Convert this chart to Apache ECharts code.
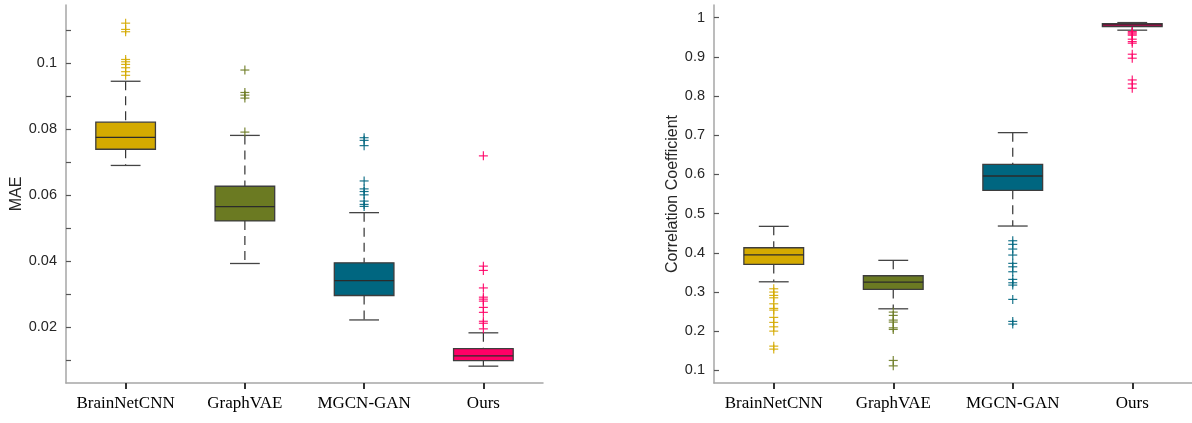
<!DOCTYPE html>
<html>
<head>
<meta charset="utf-8">
<script src="https://cdn.jsdelivr.net/npm/echarts@6/dist/echarts.min.js"></script>
<style>
html,body{margin:0;padding:0;background:#fff}
#main{width:1192px;height:423px}
</style>
</head>
<body>
<div id="main"></div>
<script>
var categories = ['BrainNetCNN', 'GraphVAE', 'MGCN-GAN', 'Ours'];

// [lower whisker, Q1, median, Q3, upper whisker]
var maeStats = [
	[0.0689, 0.0738, 0.0774, 0.0820, 0.0944],
	[0.0392, 0.0521, 0.0564, 0.0626, 0.0780],
	[0.0221, 0.0295, 0.0340, 0.0394, 0.0546],
	[0.0081, 0.0098, 0.0112, 0.0134, 0.0182]
];
var maeOutliers = [
	[0.1120, 0.1101, 0.1094, 0.1010, 0.1003, 0.0995, 0.0985, 0.0973, 0.0962],
	[0.0978, 0.0910, 0.0902, 0.0893, 0.0790],
	[0.0773, 0.0765, 0.0749, 0.0642, 0.0618, 0.0610, 0.0600, 0.0581, 0.0571, 0.0565],
	[0.0718, 0.0384, 0.0371, 0.0318, 0.0290, 0.0284, 0.0278, 0.0259, 0.0244, 0.0217, 0.0211, 0.0194]
];
var corrStats = [
	[0.3261, 0.3705, 0.3950, 0.4129, 0.4675],
	[0.2572, 0.3067, 0.3254, 0.3415, 0.3808],
	[0.4683, 0.5594, 0.5959, 0.6258, 0.7065],
	[0.9678, 0.9770, 0.9813, 0.9847, 0.9872]
];
var corrOutliers = [
	[0.3083, 0.2999, 0.2914, 0.2853, 0.2700, 0.2582, 0.2539, 0.2353, 0.2225, 0.2113, 0.2003, 0.1620, 0.1544],
	[0.2488, 0.2404, 0.2284, 0.2233, 0.2087, 0.2046, 0.1255, 0.1117],
	[0.4308, 0.4216, 0.4096, 0.3943, 0.3731, 0.3644, 0.3517, 0.3322, 0.3236, 0.3177, 0.2812, 0.2251, 0.2182],
	[0.9642, 0.9610, 0.9580, 0.9550, 0.9448, 0.9387, 0.9346, 0.9065, 0.8963, 0.8409, 0.8307, 0.8197]
];

// tick labels
var maeLabels = [0.02, 0.04, 0.06, 0.08, 0.1];
var maeTicks = [0.01, 0.02, 0.03, 0.04, 0.05, 0.06, 0.07, 0.08, 0.09, 0.1, 0.11];
var corrLabels = [0.1, 0.2, 0.3, 0.4, 0.5, 0.6, 0.7, 0.8, 0.9, 1];

var boxColors = ['#d4aa00', '#6b7a22', '#006680', '#ff0066'];

var myChart;
window.onresize = function () {
	if (myChart) myChart.resize();
};

function boxData(stats) {
	return stats.map(function (s, i) { return [i].concat(s); });
}
function outlierData(list) {
	var out = [];
	list.forEach(function (vals, i) {
		vals.forEach(function (v) { out.push([i, v]); });
	});
	return out;
}

// box, dashed whiskers, half-width caps (matlab style)
function renderBox(params, api) {
	var idx = api.value(0);
	var low = api.coord([idx, api.value(1)]);
	var q1 = api.coord([idx, api.value(2)]);
	var med = api.coord([idx, api.value(3)]);
	var q3 = api.coord([idx, api.value(4)]);
	var high = api.coord([idx, api.value(5)]);
	var band = api.size([1, 0])[0];
	var bw = band * 0.5, cw = band * 0.25;
	var x = low[0];
	var dash = {stroke: '#333', lineWidth: 1.2, lineDash: [9, 6]};
	var cap = {stroke: '#444', lineWidth: 1.3};
	return {
		type: 'group',
		children: [
			{type: 'line', shape: {x1: x, y1: high[1], x2: x, y2: q3[1]}, style: dash},
			{type: 'line', shape: {x1: x, y1: q1[1], x2: x, y2: low[1]}, style: dash},
			{type: 'line', shape: {x1: x - cw / 2, y1: high[1], x2: x + cw / 2, y2: high[1]}, style: cap},
			{type: 'line', shape: {x1: x - cw / 2, y1: low[1], x2: x + cw / 2, y2: low[1]}, style: cap},
			{type: 'rect', shape: {x: x - bw / 2, y: q3[1], width: bw, height: q1[1] - q3[1]},
				style: {fill: boxColors[idx], stroke: '#3d3d3d', lineWidth: 1.3}},
			{type: 'line', shape: {x1: x - bw / 2, y1: med[1], x2: x + bw / 2, y2: med[1]},
				style: {stroke: '#2b2b2b', lineWidth: 1.3}}
		]
	};
}

function renderPlus(params, api) {
	var idx = api.value(0);
	var p = api.coord([idx, api.value(1)]);
	var r = 4.5;
	var st = {stroke: boxColors[idx], lineWidth: 1.2, opacity: 0.9};
	return {
		type: 'group',
		children: [
			{type: 'line', shape: {x1: p[0] - r, y1: p[1], x2: p[0] + r, y2: p[1]}, style: st},
			{type: 'line', shape: {x1: p[0], y1: p[1] - r, x2: p[0], y2: p[1] + r}, style: st}
		]
	};
}

function xAxisOf(gi) {
	return {
		type: 'category', gridIndex: gi, data: categories,
		axisLine: {lineStyle: {color: '#a6a6a6', width: 1.5}},
		axisTick: {show: true, alignWithLabel: true, interval: 0, length: 6,
			lineStyle: {color: '#333', width: 2}},
		axisLabel: {interval: 0, color: '#000', fontFamily: 'Liberation Serif', fontSize: 17, margin: 12},
		splitLine: {show: false}
	};
}

function yAxisOf(gi, min, max, ticks, labels, name, gap) {
	return {
		type: 'value', gridIndex: gi, min: min, max: max,
		name: name, nameLocation: 'middle', nameGap: gap,
		nameTextStyle: {color: '#262626', fontFamily: 'Liberation Sans', fontSize: 16},
		axisLine: {show: true, lineStyle: {color: '#a6a6a6', width: 1.5}},
		axisTick: {show: true, inside: true, length: 5, customValues: ticks,
			lineStyle: {color: '#555', width: 1.2}},
		axisLabel: {customValues: labels, color: '#262626', fontFamily: 'Liberation Sans',
			fontSize: 14.5, margin: 9},
		splitLine: {show: false}
	};
}

(function () {
	myChart = echarts.init(document.getElementById('main'));
	var option = {
		animation: false,
		grid: [
			{left: 66, top: 5, width: 477, bottom: 40},
			{left: 714, top: 5, width: 478, bottom: 40}
		],
		xAxis: [xAxisOf(0), xAxisOf(1)],
		yAxis: [
			yAxisOf(0, 0.003, 0.1175, maeTicks, maeLabels, 'MAE', 41),
			yAxisOf(1, 0.068, 1.032, corrLabels, corrLabels, 'Correlation Coefficient', 33)
		],
		series: [
			{type: 'custom', xAxisIndex: 0, yAxisIndex: 0, renderItem: renderBox,
				encode: {x: 0, y: [1, 2, 3, 4, 5]}, data: boxData(maeStats)},
			{type: 'custom', xAxisIndex: 0, yAxisIndex: 0, renderItem: renderPlus,
				encode: {x: 0, y: 1}, data: outlierData(maeOutliers)},
			{type: 'custom', xAxisIndex: 1, yAxisIndex: 1, renderItem: renderBox,
				encode: {x: 0, y: [1, 2, 3, 4, 5]}, data: boxData(corrStats)},
			{type: 'custom', xAxisIndex: 1, yAxisIndex: 1, renderItem: renderPlus,
				encode: {x: 0, y: 1}, data: outlierData(corrOutliers)}
		]
	};
	myChart.setOption(option);
})();
</script>
</body>
</html>
